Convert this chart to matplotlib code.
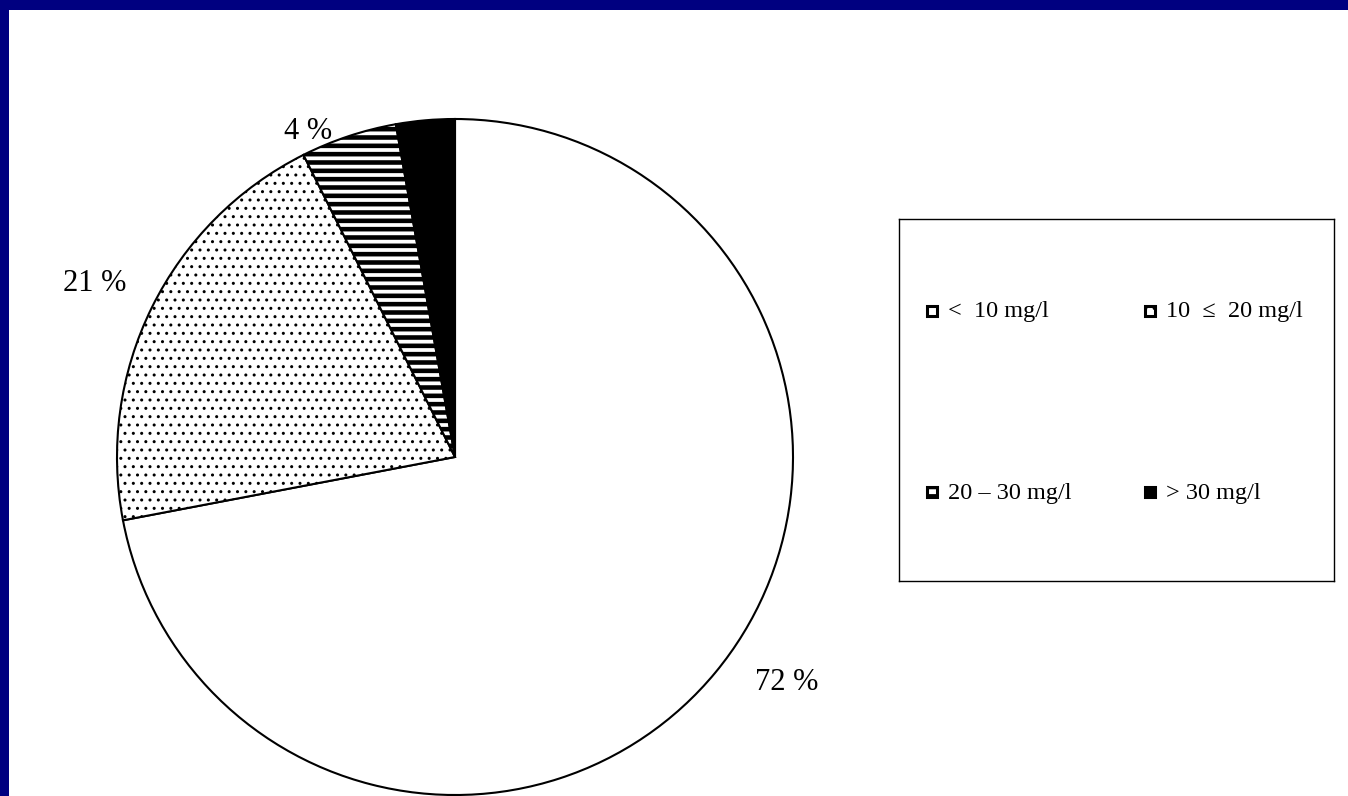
import matplotlib.pyplot as plt
from matplotlib.patches import Rectangle

# shares of the four concentration classes (percent)
shares = [72.0, 20.6, 4.6, 2.8]
pie_labels = ["72 %", "21 %", "4 %", ""]
classes = ["<  10 mg/l", "10  \u2264  20 mg/l", "20 \u2013 30 mg/l", "> 30 mg/l"]
faces = ["white", "white", "white", "black"]
hatches = [None, "..", "--", None]

# where the percentage labels sit (axes data units, radius 1)
label_pos = [(0.982, -0.666), (-1.065, 0.512), (-0.435, 0.962), (0, 0)]

plt.rcParams['font.family'] = ['Liberation Serif', 'DejaVu Serif']

fig = plt.figure(figsize=(13.48, 7.96), dpi=100)
W, H = 1348, 796

# navy frame on top and left
fig.patches.append(Rectangle((0, 1 - 10 / H), 1, 10 / H, transform=fig.transFigure,
                             facecolor='#000080', edgecolor='none', zorder=0))
fig.patches.append(Rectangle((0, 0), 9 / W, 1, transform=fig.transFigure,
                             facecolor='#000080', edgecolor='none', zorder=0))

# pie
cx, cy, r = 455, 457, 338
ax = fig.add_axes([(cx - r) / W, (H - cy - r) / H, 2 * r / W, 2 * r / H])
wedges, texts = ax.pie(shares, startangle=90, counterclock=False, radius=1,
                       colors=faces, labels=pie_labels,
                       wedgeprops=dict(edgecolor='black', linewidth=1.5),
                       textprops=dict(fontsize=22))
for w, h in zip(wedges, hatches):
    if h:
        w.set_hatch(h)
        if h == "--" and hasattr(w, 'set_hatch_linewidth'):
            w.set_hatch_linewidth(3.3)
    w.set_clip_on(False)
for t, p in zip(texts, label_pos):
    t.set_position(p)
    t.set_ha('center')
    t.set_va('center')
    t.set_zorder(5)
ax.set_xlim(-1, 1)
ax.set_ylim(-1, 1)
ax.set_aspect('equal')
ax.axis('off')

# legend box (pixel coordinates inside the box)
bx0, bx1, by0, by1 = 899, 1334, 219, 581
lax = fig.add_axes([bx0 / W, (H - by1) / H, (bx1 - bx0) / W, (by1 - by0) / H])
lax.set_xlim(bx0, bx1)
lax.set_ylim(by1, by0)
lax.set_xticks([])
lax.set_yticks([])
for s in lax.spines.values():
    s.set_linewidth(1.0)

col_x = [927, 1145]
row_y = [311, 492]
for i, (lab, fc, h) in enumerate(zip(classes, faces, hatches)):
    x = col_x[i % 2]
    y = row_y[i // 2]
    sq = Rectangle((x, y - 5), 10, 10, facecolor=fc, edgecolor='black',
                   linewidth=2.2, hatch=h)
    if h == "--" and hasattr(sq, 'set_hatch_linewidth'):
        sq.set_hatch_linewidth(2.5)
    lax.add_patch(sq)
    lax.text(x + 21, y + 1, lab, fontsize=17.5, va='center', ha='left')

fig.savefig('out.png', dpi=100)
